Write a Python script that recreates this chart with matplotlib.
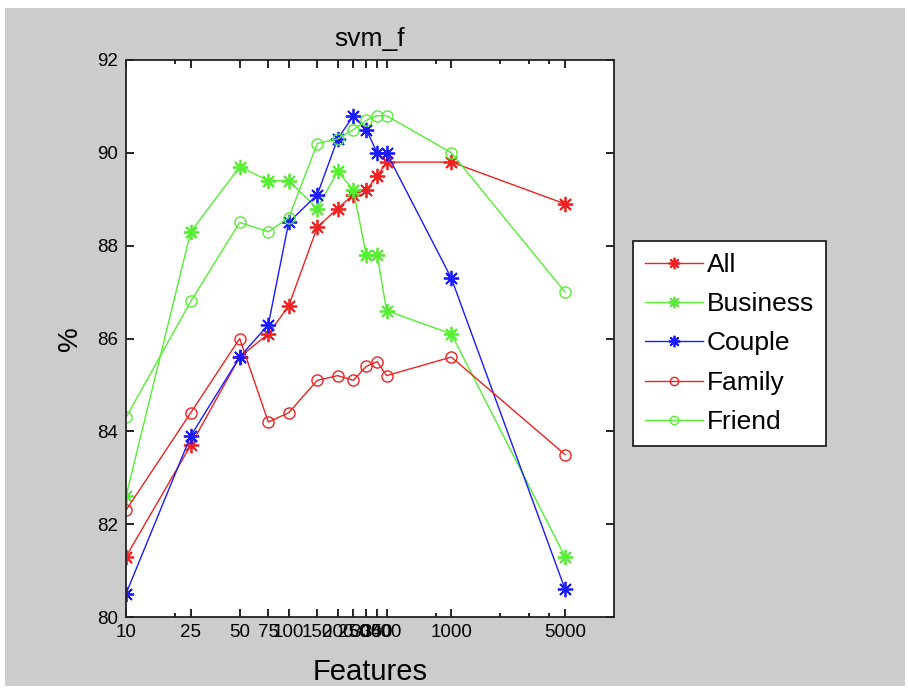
import matplotlib.pyplot as plt
from matplotlib.patches import Rectangle
from matplotlib.ticker import NullFormatter

plt.rcParams['font.family'] = ['Liberation Sans', 'DejaVu Sans']

# feature counts (x) and accuracy in % for each group
features = [10, 25, 50, 75, 100, 150, 200, 250, 300, 350, 400, 1000, 5000]
all_vals = [81.3, 83.7, 85.6, 86.1, 86.7, 88.4, 88.8, 89.1, 89.2, 89.5, 89.8, 89.8, 88.9]
business = [82.6, 88.3, 89.7, 89.4, 89.4, 88.8, 89.6, 89.2, 87.8, 87.8, 86.6, 86.1, 81.3]
couple = [80.5, 83.9, 85.6, 86.3, 88.5, 89.1, 90.3, 90.8, 90.5, 90.0, 90.0, 87.3, 80.6]
family = [82.3, 84.4, 86.0, 84.2, 84.4, 85.1, 85.2, 85.1, 85.4, 85.5, 85.2, 85.6, 83.5]
friend = [84.3, 86.8, 88.5, 88.3, 88.6, 90.2, 90.3, 90.5, 90.7, 90.8, 90.8, 90.0, 87.0]
minor_x = [20, 800, 2000, 3000, 4000]
y_ticks = [80, 82, 84, 86, 88, 90, 92]

red = '#ee2222'
green = '#55ee33'
blue = '#1a1aff'
star = (8, 2, 0)  # MATLAB-style asterisk

fig = plt.figure(figsize=(9.08, 6.88), dpi=100, facecolor='white')
# grey MATLAB-like window background
fig.patches.append(Rectangle((5 / 908, 1 - 686 / 688), 900 / 908, 678 / 688,
                             transform=fig.transFigure, facecolor='#cccccc',
                             edgecolor='none', zorder=-10))

ax = fig.add_axes([126 / 908, 1 - 617 / 688, 488 / 908, 557 / 688])
ax.set_facecolor('white')

ax.plot(features, all_vals, '-', marker=star, color=red, lw=1, ms=11, mew=1.3, label='All')
ax.plot(features, business, '-', marker=star, color=green, lw=1, ms=11, mew=1.3, label='Business')
ax.plot(features, couple, '-', marker=star, color=blue, lw=1, ms=11, mew=1.3, label='Couple')
ax.plot(features, family, '-o', color=red, lw=1, ms=8, mfc='none', label='Family')
ax.plot(features, friend, '-o', color=green, lw=1, ms=8, mfc='none', label='Friend')

ax.set_xscale('log')
ax.set_xlim(10, 10000)
ax.set_ylim(80, 92)
ax.set_xticks(features)
ax.set_xticklabels([str(f) for f in features])
ax.set_xticks(minor_x, minor=True)
ax.xaxis.set_minor_formatter(NullFormatter())
ax.set_yticks(y_ticks)

ax.tick_params(which='both', direction='in', top=True, right=True,
               labelsize=13.5, width=1.2)
ax.tick_params(axis='x', pad=5)
ax.tick_params(axis='y', pad=6)
ax.tick_params(which='major', length=6)
ax.tick_params(which='minor', length=3)
for s in ax.spines.values():
    s.set_linewidth(1.3)
    s.set_color('#222222')

ax.set_title('svm_f', fontsize=19, pad=10)
ax.set_xlabel('Features', fontsize=21, labelpad=12)
ax.set_ylabel('%', fontsize=20, labelpad=10)

leg = ax.legend(loc='upper left', bbox_to_anchor=(633 / 908, 1 - 241 / 688),
                bbox_transform=fig.transFigure, fontsize=19, frameon=True,
                fancybox=False, edgecolor='#222222', facecolor='white',
                framealpha=1, handlelength=2.2, handletextpad=0.15,
                borderpad=0.45, labelspacing=0.58, borderaxespad=0,
                markerscale=0.75)
leg.get_frame().set_linewidth(1.3)

fig.savefig('out.png', dpi=100, facecolor=fig.get_facecolor())
